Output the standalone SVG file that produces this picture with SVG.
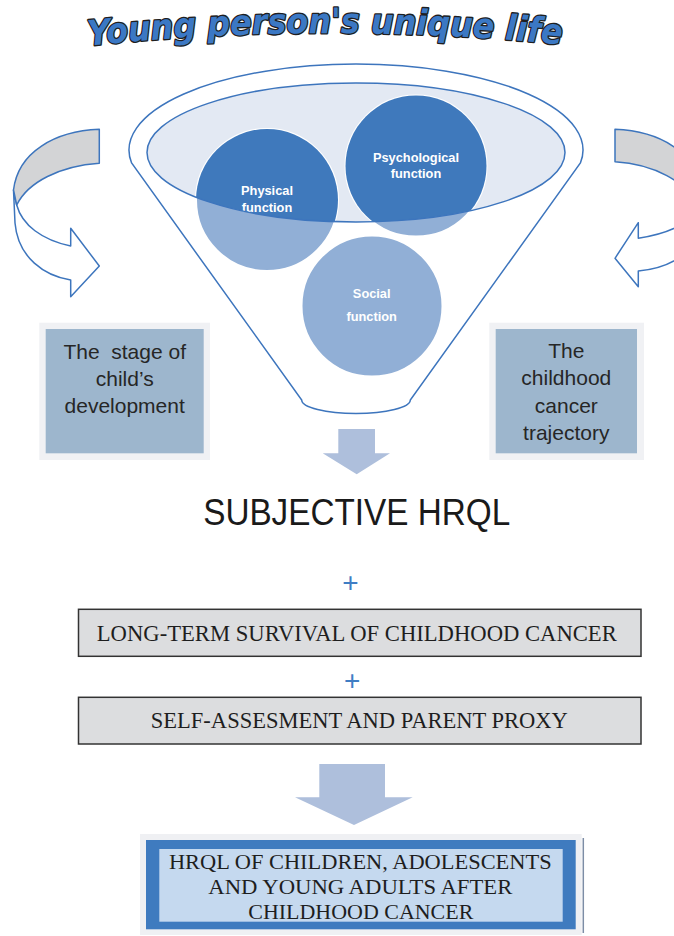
<svg xmlns="http://www.w3.org/2000/svg" width="674" height="936" viewBox="0 0 674 936">
<defs>
<style>
.outline{fill:none;stroke:#3D75BD;stroke-width:1.5}
.ctext{font-family:"Liberation Sans",Arial,sans-serif;font-weight:bold;font-size:12.8px;fill:#FFFFFF;text-anchor:middle}
.stext{font-family:"Liberation Sans",Arial,sans-serif;font-size:21px;fill:#262626;text-anchor:middle}
.serif{font-family:"Liberation Serif","Times New Roman",serif;fill:#1E1E1E;text-anchor:middle}
.plus{font-family:"Liberation Sans",Arial,sans-serif;font-size:28px;fill:#3F7DC4;text-anchor:middle}
.band{fill:#D3D4D6;stroke:#3D75BD;stroke-width:1.5;stroke-linejoin:round}
.bandw{fill:#FFFFFF;stroke:#3D75BD;stroke-width:1.5;stroke-linejoin:round}
.darr{fill:#AEBFDC}
</style>
<clipPath id="ellClip"><ellipse cx="356" cy="152.5" rx="209" ry="69.5"/></clipPath>
<path id="arc" d="M 85 46 Q 325 23 565 45"/>
</defs>
<rect width="674" height="936" fill="#FFFFFF"/>

<g id="title" transform="translate(0,-4.6) scale(1,1.1)">
<text font-family="DejaVu Sans,Verdana,sans-serif" font-weight="bold" font-style="italic" font-size="31.8" fill="#3B78C4" stroke="#1F1F1F" stroke-width="2.4" paint-order="stroke" stroke-linejoin="round"><textPath href="#arc" startOffset="50%" text-anchor="middle">Young person's unique life</textPath></text>
</g>

<g id="funnel">
<path d="M 131.6 163 A 227 86 0 1 1 580.4 163 L 410.3 400 A 54.3 13.5 0 0 1 301.7 400 Z" fill="#FFFFFF" stroke="#3D75BD" stroke-width="1.5"/>
<ellipse cx="356" cy="152.5" rx="209" ry="69.5" fill="#E3E9F3"/>
</g>

<g id="physical">
<circle cx="267" cy="200" r="71" fill="#91AFD6" stroke="#FFFFFF" stroke-width="2"/>
<circle cx="267" cy="200" r="71" fill="#3F79BC" clip-path="url(#ellClip)"/>
<text class="ctext" x="267" y="195">Physical</text>
<text class="ctext" x="267" y="211.7">function</text>
</g>

<g id="psychological">
<circle cx="416" cy="166" r="70.5" fill="#91AFD6" stroke="#FFFFFF" stroke-width="2"/>
<circle cx="416" cy="166" r="70.5" fill="#3F79BC" clip-path="url(#ellClip)"/>
<text class="ctext" x="416" y="161.7">Psychological</text>
<text class="ctext" x="416" y="178">function</text>
</g>

<g id="social">
<circle cx="372" cy="306" r="70.5" fill="#91AFD6" stroke="#FFFFFF" stroke-width="2"/>
<text class="ctext" x="371.7" y="298.3">Social</text>
<text class="ctext" x="371.7" y="321">function</text>
</g>

<ellipse class="outline" cx="356" cy="152.5" rx="209" ry="69.5"/>

<g id="stage-box">
<rect x="39.3" y="322.7" width="170.7" height="137.3" fill="#F0F1F4"/>
<rect x="45.7" y="329" width="158" height="124.3" fill="#9DB6CD"/>
<text class="stext" x="124.7" y="358.5" xml:space="preserve">The  stage of</text>
<text class="stext" x="124.7" y="386">child’s</text>
<text class="stext" x="124.7" y="413">development</text>
</g>

<g id="trajectory-box">
<rect x="489.3" y="322.7" width="154.7" height="137.3" fill="#F0F1F4"/>
<rect x="495.7" y="329" width="141.3" height="124.3" fill="#9DB6CD"/>
<text class="stext" x="566.3" y="357.7">The</text>
<text class="stext" x="566.3" y="385">childhood</text>
<text class="stext" x="566.3" y="412.7">cancer</text>
<text class="stext" x="566.3" y="440">trajectory</text>
</g>

<g id="subjective-hrql">
<text x="356.7" y="525" font-family="Liberation Sans,Arial,sans-serif" font-size="36" fill="#1A1A1A" text-anchor="middle" textLength="307" lengthAdjust="spacingAndGlyphs">SUBJECTIVE HRQL</text>
</g>

<g id="plus-1"><text class="plus" x="350.4" y="591.6">+</text></g>

<g id="survival-box">
<rect x="78.5" y="609.3" width="562.5" height="47" fill="#DCDDDF" stroke="#333333" stroke-width="1.5"/>
<text class="serif" x="356.8" y="640.5" font-size="22.4" textLength="520" lengthAdjust="spacingAndGlyphs">LONG-TERM SURVIVAL OF CHILDHOOD CANCER</text>
</g>

<g id="plus-2"><text class="plus" x="352.2" y="690">+</text></g>

<g id="assessment-box">
<rect x="78.5" y="697.3" width="562.5" height="46.7" fill="#DCDDDF" stroke="#333333" stroke-width="1.5"/>
<text class="serif" x="359.3" y="728.2" font-size="22.4" textLength="417" lengthAdjust="spacingAndGlyphs">SELF-ASSESMENT AND PARENT PROXY</text>
</g>

<g id="result-box">
<rect x="140" y="834" width="441.7" height="101" fill="#EFF0F3"/>
<line x1="583.3" y1="838" x2="583.3" y2="933" stroke="#7D8DA6" stroke-width="1.5"/>
<rect x="146" y="840" width="429.7" height="89.3" fill="#3F7BBF"/>
<rect x="159.3" y="849" width="403.4" height="72.7" fill="#C5D9EF"/>
<text class="serif" x="360.3" y="869" font-size="22" textLength="382.7" lengthAdjust="spacingAndGlyphs">HRQL OF CHILDREN, ADOLESCENTS</text>
<text class="serif" x="360.3" y="894" font-size="22" textLength="304" lengthAdjust="spacingAndGlyphs">AND YOUNG ADULTS AFTER</text>
<text class="serif" x="360.8" y="919.3" font-size="22" textLength="225" lengthAdjust="spacingAndGlyphs">CHILDHOOD CANCER</text>
</g>

<g id="connectors">
<path class="bandw" d="M13.5,190 L15,223 C18,258 45,276 70.7,280 L70.7,296.7 L99.3,266 L70.7,228.3 L70.7,246 C42,240 22,225 16.7,205 Z"/>
<path class="band" d="M99.3,129.3 C55,131 18,152 13.5,190 L16.7,205 C28,182 60,166 99.3,163.3 Z"/>
<path class="bandw" d="M700.8,188 L699.3,223 C696.3,254 669.3,268 638.3,271 L638.3,286.7 L615,258.3 L638.3,222.7 L638.3,238.3 C672.3,233 692.3,222 697.6,205 Z"/>
<path class="band" d="M615,129.3 C659.3,131 696.3,152 700.8,190 L697.6,205 C686.3,182 654.3,164 615,161.7 Z"/>
<polygon class="darr" points="338.3,429 375,429 375,453.3 390,453.3 356.7,474.3 322.7,453.3 338.3,453.3"/>
<polygon class="darr" points="319.3,764 385,764 385,797.3 412.7,797.3 354,825 295,797.3 319.3,797.3"/>
</g>
</svg>
